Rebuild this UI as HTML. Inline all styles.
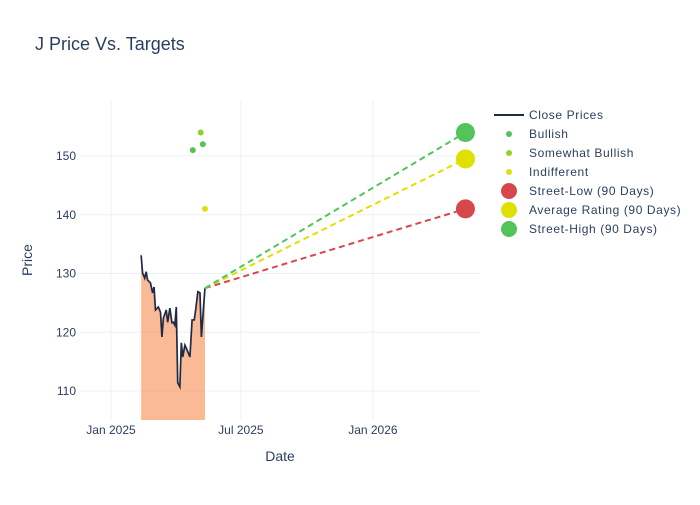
<!DOCTYPE html>
<html><head><meta charset="utf-8"><style>
body{margin:0;background:#fff;}
svg{font-family:"Liberation Sans",sans-serif;}
</style></head><body>
<svg id="chart" width="700" height="500"></svg>
<script>
// data (days since 2025-01-01)
const priceDays=[42,44,47,49,51,55,58,60,62,66,69,71,73,77,79,82,85,87,89,91,93,96,98,100,103,106,110,113,116,118,121,124,126,129,131];
const priceVals=[133.1,130.1,129.2,130.3,128.9,128.4,126.7,127.7,123.8,124.3,123.4,119.2,122.4,123.8,121.7,124.1,121.6,121.7,121.2,124.3,111.4,110.7,118.2,115.8,117.8,117.0,115.8,122.1,122.1,123.8,126.9,126.7,119.2,124.3,127.5];
const bullishDays=[114,128];
const bullishVals=[151,152];
const somewhatDays=[125];
const somewhatVals=[154];
const indiffDays=[131];
const indiffVals=[141];
const targetDay=494;
const targetNames=["Street-Low (90 Days)","Average Rating (90 Days)","Street-High (90 Days)"];
const targetVals=[141,149.5,154];
const yTicks=[110,120,130,140,150];
const xTickDays=[0,181,365];
const xTickLabels=["Jan 2025","Jul 2025","Jan 2026"];

const NS="http://www.w3.org/2000/svg";
const svg=document.getElementById('chart');
function el(t,a,p){const e=document.createElementNS(NS,t);for(const k in a)e.setAttribute(k,a[k]);(p||svg).appendChild(e);return e;}
const X=d=>111+d*0.7175;
const Y=v=>391-(v-110)*5.875;
const L=80,R=480,T=100,B=420;

let t=el('text',{x:35,y:50,'font-size':18,fill:'#2a3f5f'});t.textContent='J Price Vs. Targets';



for(const v of yTicks){
  const g=el('line',{x1:L,x2:R,y1:Y(v),y2:Y(v),stroke:'#ebf0f8'});
  
  
  const tx=el('text',{x:L-4,y:Y(v)+4,'font-size':12,fill:'#2a3f5f','text-anchor':'end'});tx.textContent=v;
  
  
}
xTickDays.forEach((d,i)=>{
  const g=el('line',{x1:X(d),x2:X(d),y1:T,y2:B,stroke:'#ebf0f8'});
  
  
  const tx=el('text',{x:X(d),y:B+14,'font-size':12,fill:'#2a3f5f','text-anchor':'middle'});tx.textContent=xTickLabels[i];
  
  
});
t=el('text',{x:280,y:461,'font-size':14,fill:'#2a3f5f','text-anchor':'middle'});t.textContent='Date';


t=el('text',{x:32,y:260,'font-size':14,fill:'#2a3f5f','text-anchor':'middle',transform:'rotate(-90 32 260)'});t.textContent='Price';



// area
let pts=priceDays.map((d,i)=>X(d)+','+Y(priceVals[i])).join(' ');
const area=el('polygon',{points:X(priceDays[0])+','+B+' '+pts+' '+X(priceDays[priceDays.length-1])+','+B,fill:'rgba(247,140,80,0.6)'});


const line=el('polyline',{points:pts,fill:'none',stroke:'#1f2a44','stroke-width':1.7});



const tColors=['#d6474b','#e0e000','#52c45a'];
const lastD=priceDays[priceDays.length-1],lastV=priceVals[priceVals.length-1];
targetVals.forEach((v,i)=>{
  const l=el('line',{x1:X(lastD),y1:Y(lastV),x2:X(targetDay),y2:Y(v),stroke:tColors[i],'stroke-width':2,'stroke-dasharray':'6,4'});
  
  
});
targetVals.forEach((v,i)=>{
  const c=el('circle',{cx:X(targetDay),cy:Y(v),r:9.5,fill:tColors[i]});
  
  
});
function dots(ds,vs,col){ds.forEach((d,i)=>{const c=el('circle',{cx:X(d),cy:Y(vs[i]),r:3,fill:col});
  
  });}
dots(bullishDays,bullishVals,'#52c45a');
dots(somewhatDays,somewhatVals,'#8fd12e');
dots(indiffDays,indiffVals,'#dddd10');

// legend
const leg=[['line','#1f2a44','Close Prices'],['s','#52c45a','Bullish'],['s','#8fd12e','Somewhat Bullish'],['s','#dddd10','Indifferent'],['b',tColors[0],targetNames[0]],['b',tColors[1],targetNames[1]],['b',tColors[2],targetNames[2]]];
leg.forEach((e,i)=>{
  const y=115+i*19;
  if(e[0]=='line'){const l=el('line',{x1:494,x2:524,y1:y,y2:y,stroke:e[1],'stroke-width':2});
    
    }
  else{const c=el('circle',{cx:509,cy:y,r:e[0]=='s'?3:8,fill:e[1]});
    
    }
  const tx=el('text',{x:529,y:y+4,'font-size':12,fill:'#2a3f5f','letter-spacing':'0.6'});tx.textContent=e[2];
  
  
});
</script>
</body></html>
